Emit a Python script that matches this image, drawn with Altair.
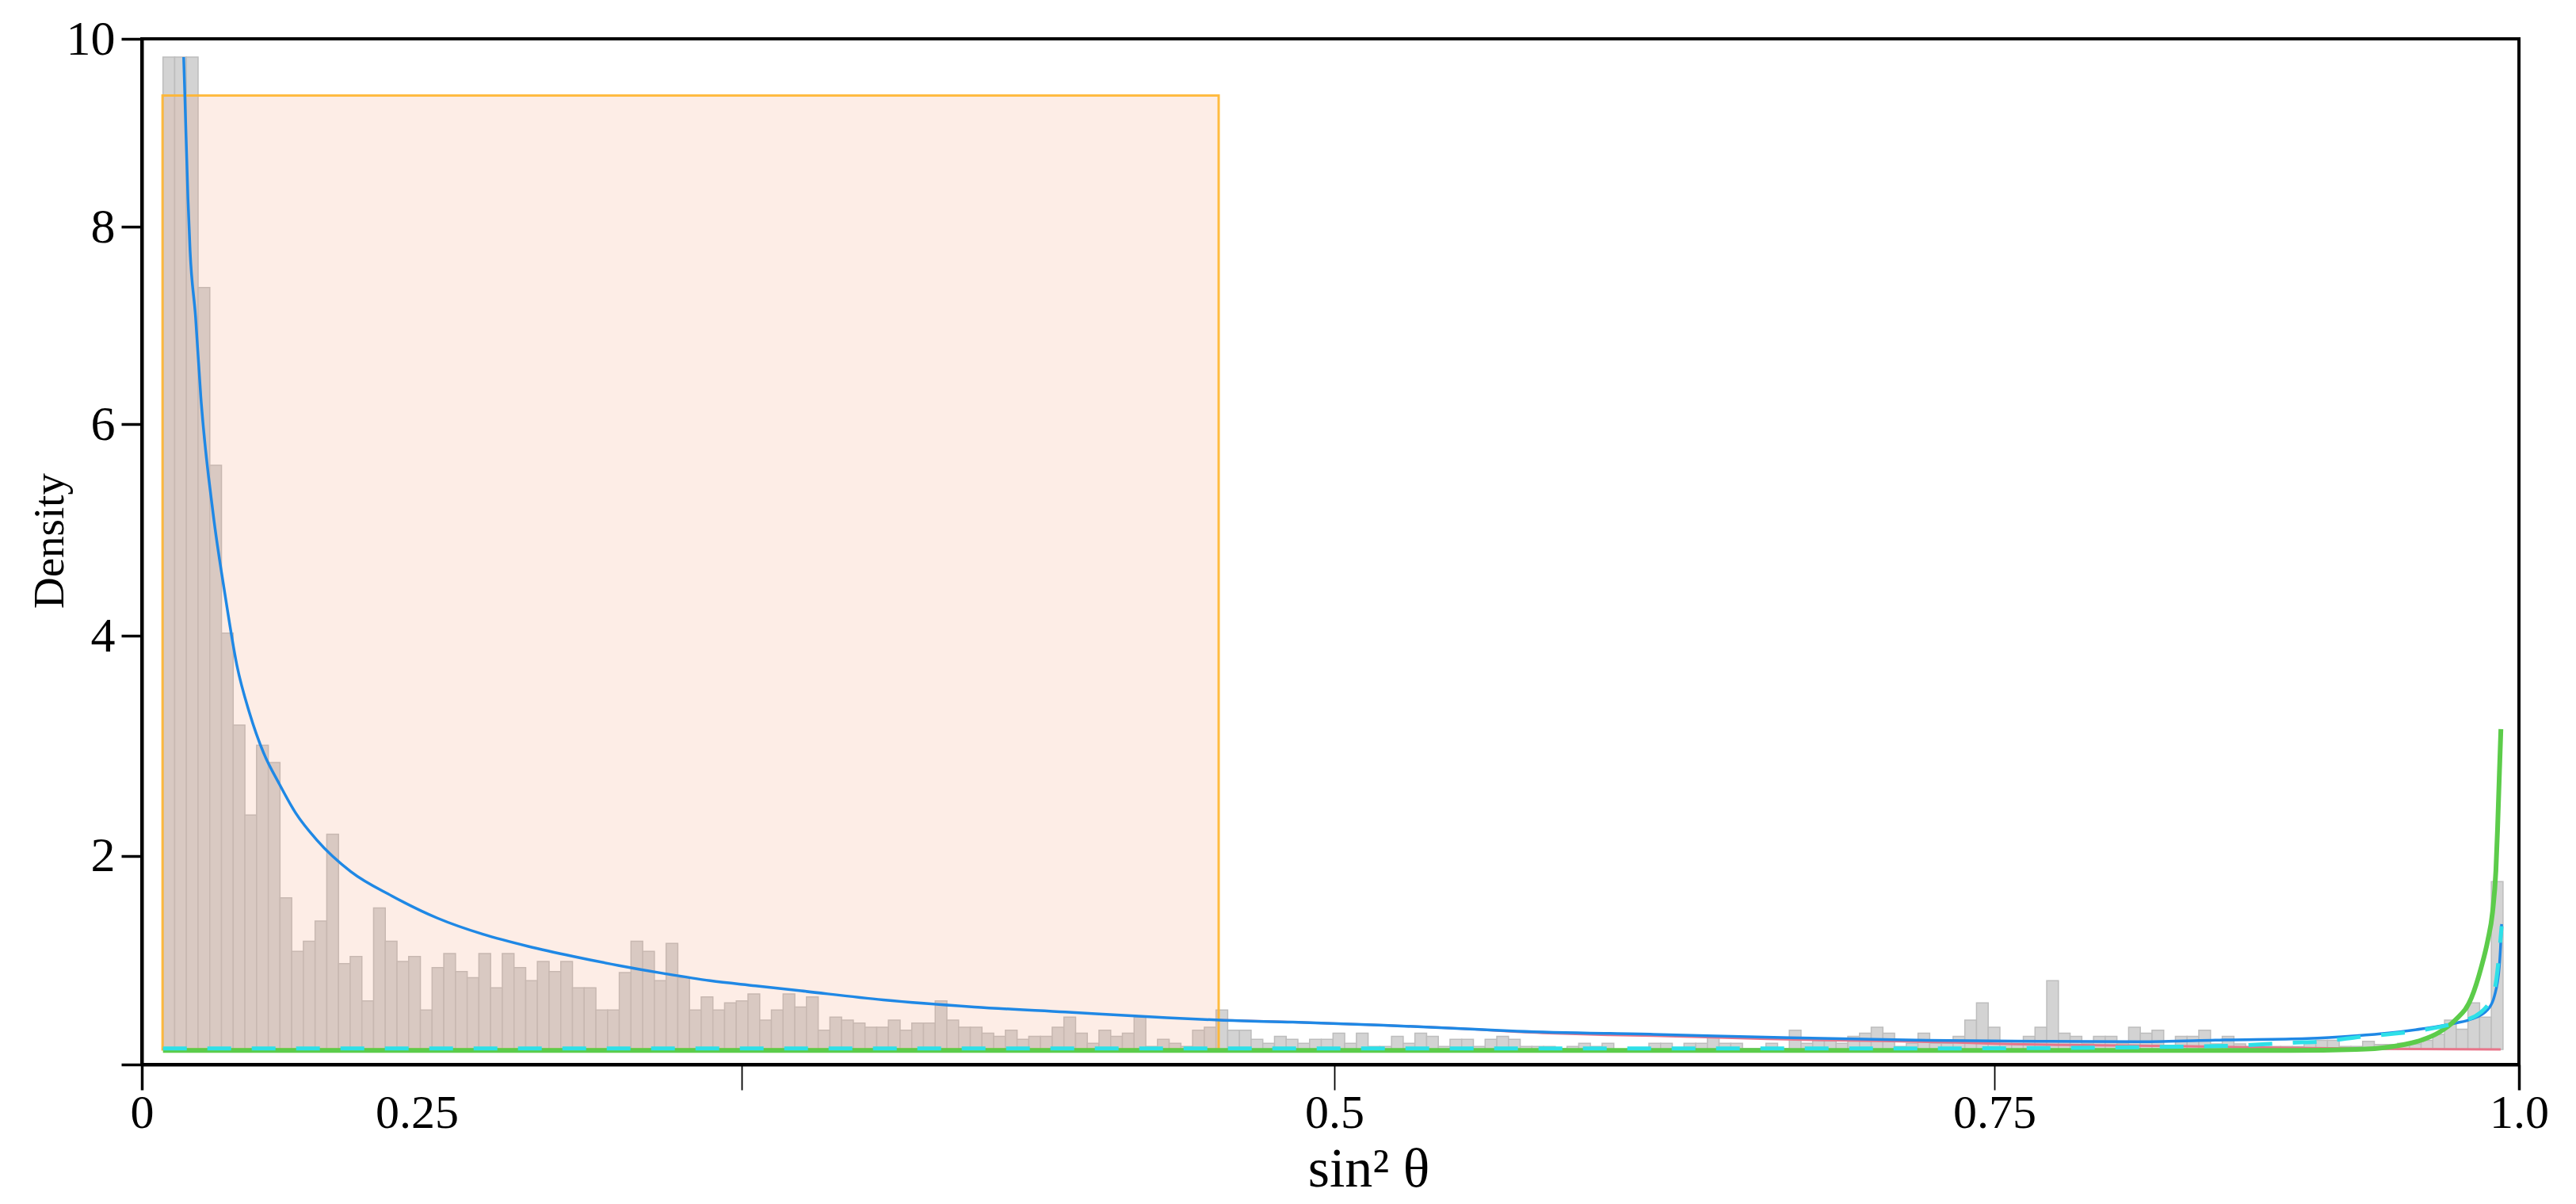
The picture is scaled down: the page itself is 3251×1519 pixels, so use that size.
import altair as alt
import pandas as pd

# ---------------- data ----------------
bin_start = 0.0089
bin_width = 0.004922
density = [
    9.82, 9.82, 9.82, 7.54, 5.78, 4.12, 3.21, 2.32, 3.01, 2.84,
    1.50, 0.97, 1.07, 1.27, 2.13, 0.85, 0.92, 0.48, 1.40, 1.07,
    0.87, 0.92, 0.39, 0.81, 0.95, 0.77, 0.71, 0.95, 0.61, 0.95,
    0.81, 0.68, 0.87, 0.77, 0.87, 0.61, 0.61, 0.39, 0.39, 0.76,
    1.07, 0.97, 0.68, 1.05, 0.71, 0.39, 0.52, 0.39, 0.46, 0.48,
    0.55, 0.29, 0.39, 0.55, 0.42, 0.52, 0.19, 0.32, 0.29, 0.26,
    0.22, 0.22, 0.29, 0.19, 0.26, 0.26, 0.48, 0.29, 0.22, 0.22,
    0.16, 0.13, 0.19, 0.10, 0.13, 0.13, 0.22, 0.32, 0.16, 0.06,
    0.19, 0.13, 0.16, 0.32, 0.03, 0.10, 0.06, 0.03, 0.19, 0.22,
    0.39, 0.19, 0.19, 0.10, 0.06, 0.13, 0.10, 0.06, 0.10, 0.10,
    0.16, 0.06, 0.16, 0.03, 0.03, 0.13, 0.06, 0.16, 0.13, 0.03,
    0.10, 0.10, 0.03, 0.10, 0.13, 0.10, 0.03, 0.03, 0.03, 0.01,
    0.03, 0.06, 0.03, 0.06, 0.00, 0.00, 0.01, 0.06, 0.06, 0.01,
    0.06, 0.06, 0.13, 0.06, 0.06, 0.01, 0.01, 0.06, 0.01, 0.19,
    0.06, 0.10, 0.10, 0.06, 0.13, 0.16, 0.22, 0.16, 0.03, 0.06,
    0.16, 0.06, 0.06, 0.13, 0.29, 0.46, 0.22, 0.06, 0.06, 0.13,
    0.22, 0.68, 0.16, 0.13, 0.06, 0.13, 0.13, 0.06, 0.22, 0.16,
    0.19, 0.03, 0.13, 0.13, 0.19, 0.055, 0.13, 0.055, 0.03, 0.03,
    0.03, 0.03, 0.03, 0.07, 0.09, 0.09, 0.03, 0.03, 0.08, 0.05,
    0.05, 0.06, 0.055, 0.09, 0.15, 0.29, 0.20, 0.46, 0.32, 1.66,
]

region_x = [0.0087]
region_x2 = [0.453]
region_top = [9.44]

blue_x = [0.0176, 0.0181, 0.0194, 0.0203, 0.0226, 0.0248, 0.030, 0.035, 0.040,
          0.0453, 0.0513, 0.058, 0.0647, 0.0737, 0.0879, 0.1051, 0.1243, 0.1435,
          0.1626, 0.1817, 0.2008, 0.2200, 0.2391, 0.2582, 0.2773, 0.3119, 0.3502,
          0.3885, 0.4268, 0.4535, 0.4842, 0.5225, 0.5607, 0.5786, 0.636, 0.6935,
          0.7508, 0.7987, 0.8403, 0.8762, 0.9108, 0.9315, 0.9453, 0.9592, 0.9730,
          0.98, 0.9869, 0.9897, 0.9917, 0.9924, 0.9927]
blue_y = [9.82, 9.44, 8.42, 7.90, 7.25, 6.46, 5.3, 4.5, 3.8,
          3.33, 2.93, 2.62, 2.34, 2.07, 1.76, 1.52, 1.30, 1.14,
          1.02, 0.92, 0.83, 0.75, 0.68, 0.63, 0.58, 0.49, 0.42,
          0.37, 0.32, 0.29, 0.27, 0.24, 0.20, 0.18, 0.15, 0.115,
          0.09, 0.08, 0.076, 0.094, 0.107, 0.135, 0.163, 0.204, 0.259,
          0.30, 0.396, 0.53, 0.81, 1.08, 1.24]

red_x = [0.4535, 0.4842, 0.5225, 0.5607, 0.5786, 0.5977, 0.6169, 0.636, 0.6551,
         0.6838, 0.7067, 0.7317, 0.7603, 0.7795, 0.8082, 0.8388, 0.8485, 0.9039,
         0.9453, 0.9923]
red_y = [0.29, 0.27, 0.24, 0.20, 0.175, 0.157, 0.144, 0.136, 0.123,
         0.104, 0.092, 0.084, 0.07, 0.057, 0.045, 0.037, 0.035, 0.016,
         0.005, 0.0]

cyan_x = [0.0089, 0.75, 0.807, 0.8485, 0.883, 0.9039, 0.9177, 0.9315, 0.9453,
          0.9592, 0.973, 0.9841, 0.9897, 0.9917, 0.9927]
cyan_y = [0.01, 0.01, 0.015, 0.025, 0.04, 0.066, 0.08, 0.12, 0.15,
          0.19, 0.26, 0.37, 0.59, 0.95, 1.22]

green_x = [0.0089, 0.9039, 0.9315, 0.9453, 0.9592, 0.9661, 0.973, 0.98, 0.9841,
           0.9869, 0.9889, 0.9903, 0.991, 0.9917, 0.9924]
green_y = [-0.01, -0.01, 0.0, 0.024, 0.094, 0.165, 0.286, 0.51, 0.81,
           1.08, 1.36, 1.77, 2.18, 2.68, 3.17]

x_tick_values = [0, 0.2523, 0.5017, 0.7793, 1.0]
y_tick_values = [-0.149, 1.914, 4.094, 6.188, 8.141, 10.0]

# ---------------- tables ----------------
bars = pd.DataFrame({
    "x": [bin_start + i * bin_width for i in range(len(density))],
    "x2": [bin_start + (i + 1) * bin_width for i in range(len(density))],
    "y": density,
})
region = pd.DataFrame({"x": region_x, "x2": region_x2, "y": region_top, "y0": [0.0]})
blue = pd.DataFrame({"x": blue_x, "y": blue_y})
red = pd.DataFrame({"x": red_x, "y": red_y})
cyan = pd.DataFrame({"x": cyan_x, "y": cyan_y})
green = pd.DataFrame({"x": green_x, "y": green_y})

FONT = "Liberation Serif"

xscale = alt.Scale(domain=[0, 1], nice=False, zero=False)
yscale = alt.Scale(domain=[-0.149, 10], nice=False, zero=False)

xaxis = alt.Axis(
    values=x_tick_values,
    labelExpr="datum.value < 0.1 ? '0' : datum.value < 0.3 ? '0.25' : datum.value < 0.6 ? '0.5' : datum.value < 0.9 ? '0.75' : '1.0'",
    labelOffset={"condition": {"test": "datum.value > 0.1 && datum.value < 0.3", "value": -410}, "value": 0},
    tickWidth={"condition": {"test": "datum.value > 0.1 && datum.value < 0.9", "value": 1.8}, "value": 3.5},
    tickSize=32, labelPadding=0, labelFontSize=60, labelFont=FONT, labelColor="black",
    labelFlush=False, labelOverlap=False,
    title="sin² θ", titleFont=FONT, titleFontSize=70, titleFontWeight="normal", titleColor="black",
    titleX=1548, titleY=153, titleAlign="center", titleBaseline="alphabetic",
    grid=False, domainColor="black", domainWidth=4, tickColor="black",
)
yaxis = alt.Axis(
    values=y_tick_values,
    labelExpr="datum.value > 9.5 ? '10' : datum.value > 7 ? '8' : datum.value > 5 ? '6' : datum.value > 3 ? '4' : datum.value > 1 ? '2' : ''",
    tickSize=26, tickWidth=3.5, labelPadding=8, labelFontSize=62, labelFont=FONT, labelColor="black",
    labelFlush=False, labelOverlap=False,
    title="Density", titleFont=FONT, titleFontSize=55, titleFontWeight="normal", titleColor="black",
    titleX=-117, titleY=633, titleAngle=-90, titleAlign="center", titleBaseline="middle",
    grid=False, domainColor="black", domainWidth=4, tickColor="black",
)

bar_layer = alt.Chart(bars).mark_rect(
    fill="#d3d3d3", stroke="#bdbdbd", strokeWidth=1.5
).encode(
    x=alt.X("x:Q", scale=xscale, axis=xaxis),
    x2="x2:Q",
    y=alt.Y("y:Q", scale=yscale, axis=yaxis),
    y2=alt.datum(0),
)

region_layer = alt.Chart(region).mark_rect(
    fill="#f4a582", fillOpacity=0.2, stroke="#ffb52e", strokeOpacity=0.9, strokeWidth=3
).encode(x="x:Q", x2="x2:Q", y="y:Q", y2="y0:Q")

red_layer = alt.Chart(red).mark_line(color="#e8758a", strokeWidth=3, interpolate="monotone").encode(
    x="x:Q", y="y:Q", order="x:Q")
blue_layer = alt.Chart(blue).mark_line(color="#1f88e5", strokeWidth=3.5, interpolate="monotone").encode(
    x="x:Q", y="y:Q", order="x:Q")
green_layer = alt.Chart(green).mark_line(color="#5ccc4a", strokeWidth=6, interpolate="monotone").encode(
    x="x:Q", y="y:Q", order="x:Q")
cyan_layer = alt.Chart(cyan).mark_line(color="#2ee0e8", strokeWidth=5, strokeDash=[30, 26],
                                       interpolate="monotone").encode(
    x="x:Q", y="y:Q", order="x:Q")

chart = alt.layer(
    bar_layer, region_layer, red_layer, blue_layer, green_layer, cyan_layer
).properties(
    width=3000, height=1294,
    autosize=alt.AutoSizeParams(type="none"),
    padding={"left": 171, "top": 41, "right": 60, "bottom": 170},
    background="white",
).configure_view(
    stroke="black", strokeWidth=4
)

chart.save("out.html", embed_options={"renderer": "svg", "actions": False})
